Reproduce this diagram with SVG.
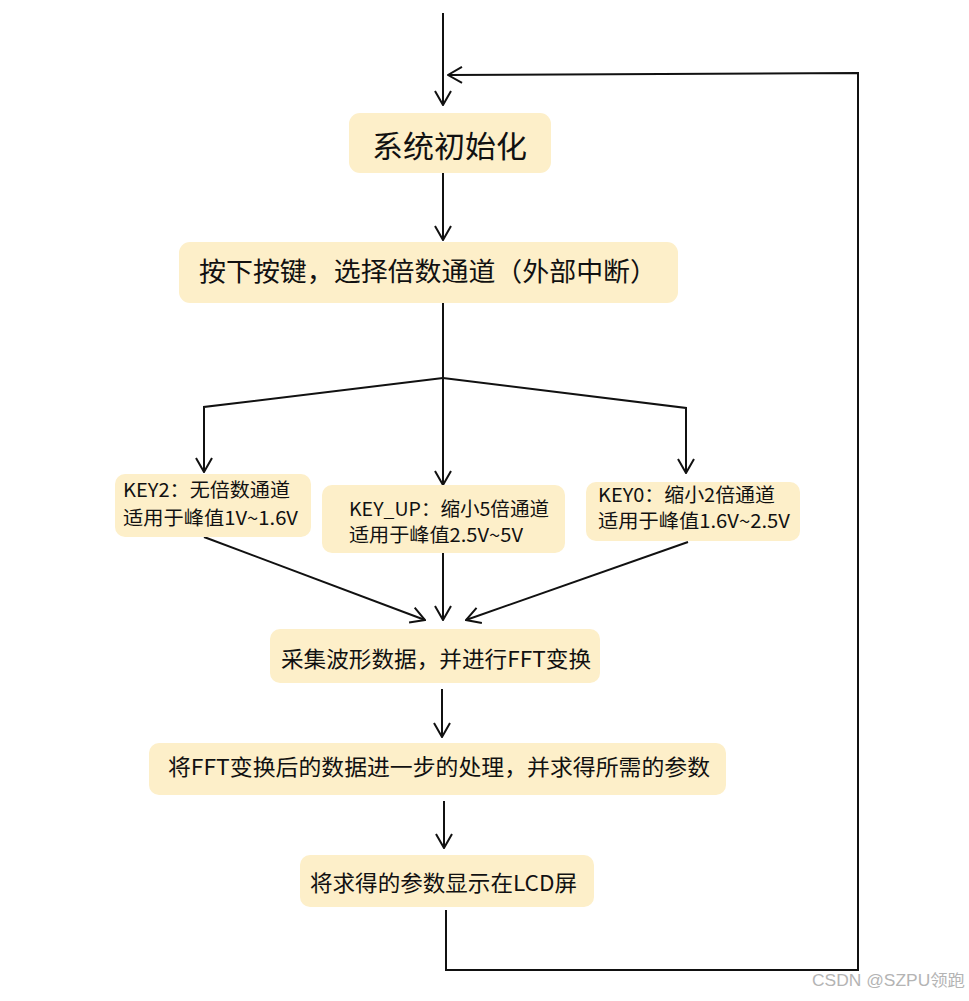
<svg xmlns="http://www.w3.org/2000/svg" width="969" height="1001" viewBox="0 0 969 1001">
<style>
.box{fill:#fdefc9;}
.t{font-family:"Noto Sans CJK SC","Noto Sans",sans-serif;fill:#111;}
.edge{fill:none;stroke:#111;stroke-width:2;}
.wm{font-family:"Liberation Sans","Noto Sans CJK SC",sans-serif;fill:#b4b4b4;font-size:16px;}
</style>
<defs>
<marker id="arr" viewBox="0 0 16 18" refX="15" refY="9" markerWidth="16" markerHeight="18" markerUnits="userSpaceOnUse" orient="auto">
<path d="M1,1 L15,9 L1,17" fill="none" stroke="#111" stroke-width="2"/>
</marker>
</defs>
<rect width="969" height="1001" fill="#ffffff"/>
<g id="connectors">
<path class="edge" d="M443,13 V105" marker-end="url(#arr)"/>
<path class="edge" d="M443,173 V240" marker-end="url(#arr)"/>
<path class="edge" d="M443,303 V378"/>
<path class="edge" d="M443,378 L204,407 V472" marker-end="url(#arr)"/>
<path class="edge" d="M443,378 V485" marker-end="url(#arr)"/>
<path class="edge" d="M443,378 L686,408 V473" marker-end="url(#arr)"/>
<path class="edge" d="M204,537 L425,620" marker-end="url(#arr)"/>
<path class="edge" d="M443,553 V620" marker-end="url(#arr)"/>
<path class="edge" d="M688,542 L466,620" marker-end="url(#arr)"/>
<path class="edge" d="M442,689 V737" marker-end="url(#arr)"/>
<path class="edge" d="M444,801 V848" marker-end="url(#arr)"/>
<path class="edge" d="M446,910 V970 H858 V73 L448,75" marker-end="url(#arr)"/>
</g>
<g id="init">
<rect class="box" x="349" y="113" width="202" height="60" rx="11"/>
<text class="t" x="372" y="157" font-size="30" textLength="155" lengthAdjust="spacingAndGlyphs">系统初始化</text>
</g>
<g id="key">
<rect class="box" x="179" y="242" width="499" height="61" rx="11"/>
<text class="t" x="199" y="281" font-size="26" textLength="458" lengthAdjust="spacingAndGlyphs">按下按键，选择倍数通道（外部中断）</text>
</g>
<g id="key2">
<rect class="box" x="115" y="474" width="196" height="63" rx="10"/>
<text class="t" x="123" y="497" font-size="19" textLength="167" lengthAdjust="spacingAndGlyphs">KEY2：无倍数通道</text>
<text class="t" x="123" y="525" font-size="19" textLength="175" lengthAdjust="spacingAndGlyphs">适用于峰值1V~1.6V</text>
</g>
<g id="keyup">
<rect class="box" x="322" y="485" width="243" height="68" rx="10"/>
<text class="t" x="349" y="516" font-size="19" textLength="200" lengthAdjust="spacingAndGlyphs">KEY_UP：缩小5倍通道</text>
<text class="t" x="349" y="542" font-size="19" textLength="174" lengthAdjust="spacingAndGlyphs">适用于峰值2.5V~5V</text>
</g>
<g id="key0">
<rect class="box" x="586" y="482" width="214" height="59" rx="10"/>
<text class="t" x="598" y="502" font-size="19" textLength="177" lengthAdjust="spacingAndGlyphs">KEY0：缩小2倍通道</text>
<text class="t" x="598" y="528" font-size="19" textLength="192" lengthAdjust="spacingAndGlyphs">适用于峰值1.6V~2.5V</text>
</g>
<g id="sample">
<rect class="box" x="270" y="629" width="330" height="54" rx="10"/>
<text class="t" x="281" y="667" font-size="22" textLength="310" lengthAdjust="spacingAndGlyphs">采集波形数据，并进行FFT变换</text>
</g>
<g id="process">
<rect class="box" x="149" y="743" width="577" height="52" rx="10"/>
<text class="t" x="168" y="775" font-size="22" textLength="542" lengthAdjust="spacingAndGlyphs">将FFT变换后的数据进一步的处理，并求得所需的参数</text>
</g>
<g id="display">
<rect class="box" x="300" y="855" width="294" height="52" rx="10"/>
<text class="t" x="310" y="891" font-size="22" textLength="267" lengthAdjust="spacingAndGlyphs">将求得的参数显示在LCD屏</text>
</g>
<text class="wm" x="812" y="986" textLength="153" lengthAdjust="spacingAndGlyphs">CSDN @SZPU领跑</text>
</svg>
